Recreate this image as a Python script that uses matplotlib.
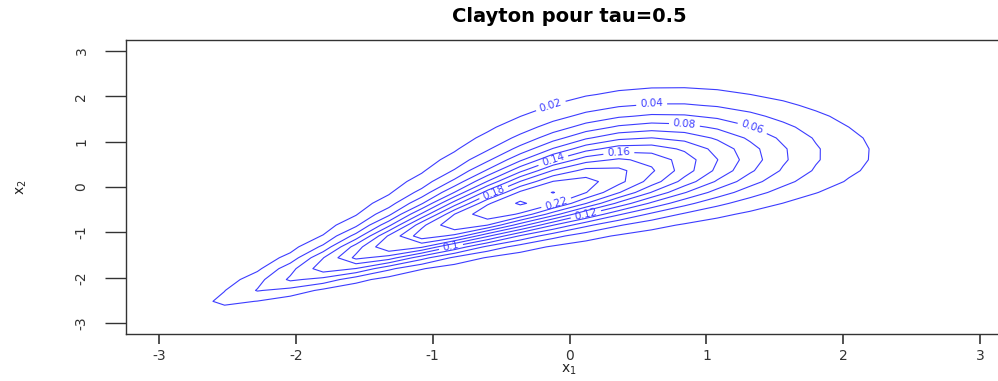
import numpy as np
import matplotlib
matplotlib.use("Agg")
import matplotlib.pyplot as plt
from math import erf, sqrt, pi

# --- chart parameters / data ---
tau = 0.5
theta = 2 * tau / (1 - tau)          # Clayton parameter from Kendall's tau
x_range = [-3, 3]
y_range = [-3, 3]
n_grid = 26
levels = [0.02, 0.04, 0.06, 0.08, 0.10, 0.12, 0.14, 0.16, 0.18, 0.20, 0.22, 0.24]
x_ticks = [-3, -2, -1, 0, 1, 2, 3]
y_ticks = [-3, -2, -1, 0, 1, 2, 3]
title = "Clayton pour tau=0.5"

# which levels carry an inline label, and roughly where (data coords)
label_levels = [0.02, 0.04, 0.06, 0.08, 0.10, 0.12, 0.14, 0.16, 0.18, 0.22]
label_spots = [(-0.2, 1.6), (0.72, 1.76), (1.41, 1.41), (0.72, 1.34),
               (-0.96, -1.12), (0.0, -0.68), (-0.16, 0.48), (0.43, 0.68),
               (-0.52, 0.0), (0.0, -0.31)]

# --- density of the Clayton copula with N(0,1) margins ---
xs = np.linspace(x_range[0], x_range[1], n_grid)
ys = np.linspace(y_range[0], y_range[1], n_grid)
X, Y = np.meshgrid(xs, ys)
Phi = np.vectorize(lambda t: 0.5 * (1 + erf(t / sqrt(2))))
U, V = Phi(X), Phi(Y)
phi = lambda t: np.exp(-t ** 2 / 2) / sqrt(2 * pi)
c = (1 + theta) * (U * V) ** (-theta - 1) * (U ** -theta + V ** -theta - 1) ** (-2 - 1 / theta)
Z = c * phi(X) * phi(Y)

W, H = 998, 381
fig = plt.figure(figsize=(W / 100, H / 100), dpi=100)
ax = fig.add_axes([126 / W, (H - 334) / H, (1013 - 126) / W, 294 / H])
ax.set_xlim(-3.24, 3.24)
ax.set_ylim(-3.24, 3.24)

blue = "#3c3cff"
cs = ax.contour(X, Y, Z, levels=levels, colors=blue, linewidths=0.8)

# snap each wanted label spot onto the intended contour level
snapped = []
for lv, spot in zip(label_levels, label_spots):
    i = int(np.argmin(np.abs(np.array(levels) - lv)))
    segs = [s for s in cs.allsegs[i] if len(s)]
    if not segs:
        continue
    pts = np.vstack(segs)
    dpts = ax.transData.transform(pts)
    dsp = ax.transData.transform([spot])[0]
    k = int(np.argmin(((dpts - dsp) ** 2).sum(axis=1)))
    snapped.append(tuple(pts[k]))

ax.clabel(cs, inline=True, fontsize=7.5, fmt=lambda v: f"{v:g}",
          colors=blue, manual=snapped, inline_spacing=4)

ax.set_xticks(x_ticks)
ax.set_yticks(y_ticks)
ax.set_xticklabels([str(t) for t in x_ticks])
ax.set_yticklabels([str(t) for t in y_ticks], rotation=90, va="center")
ax.tick_params(axis="x", direction="out", length=7, width=1.2, pad=4,
               labelsize=10, colors="#333333")
ax.tick_params(axis="y", direction="out", length=15, width=1.0, pad=12,
               labelsize=10, colors="#333333")
for s in ax.spines.values():
    s.set_color("#333333")
    s.set_linewidth(1.0)

ax.set_xlabel(r"$\mathregular{x_1}$", fontsize=10, color="#222222")
ax.xaxis.set_label_coords((569 - 126) / (1013 - 126), -(370 - 334) / 294)
ax.xaxis.label.set_va("center")
ax.set_ylabel(r"$\mathregular{x_2}$", fontsize=10, color="#222222")
ax.yaxis.set_label_coords(-(126 - 22) / (1013 - 126), 0.5)
ax.yaxis.label.set_va("center")
fig.text(569 / W, 1 - 16 / H, title, ha="center", va="center",
         fontsize=14, fontweight="bold", family="DejaVu Sans")

fig.savefig("out.png", dpi=100)
